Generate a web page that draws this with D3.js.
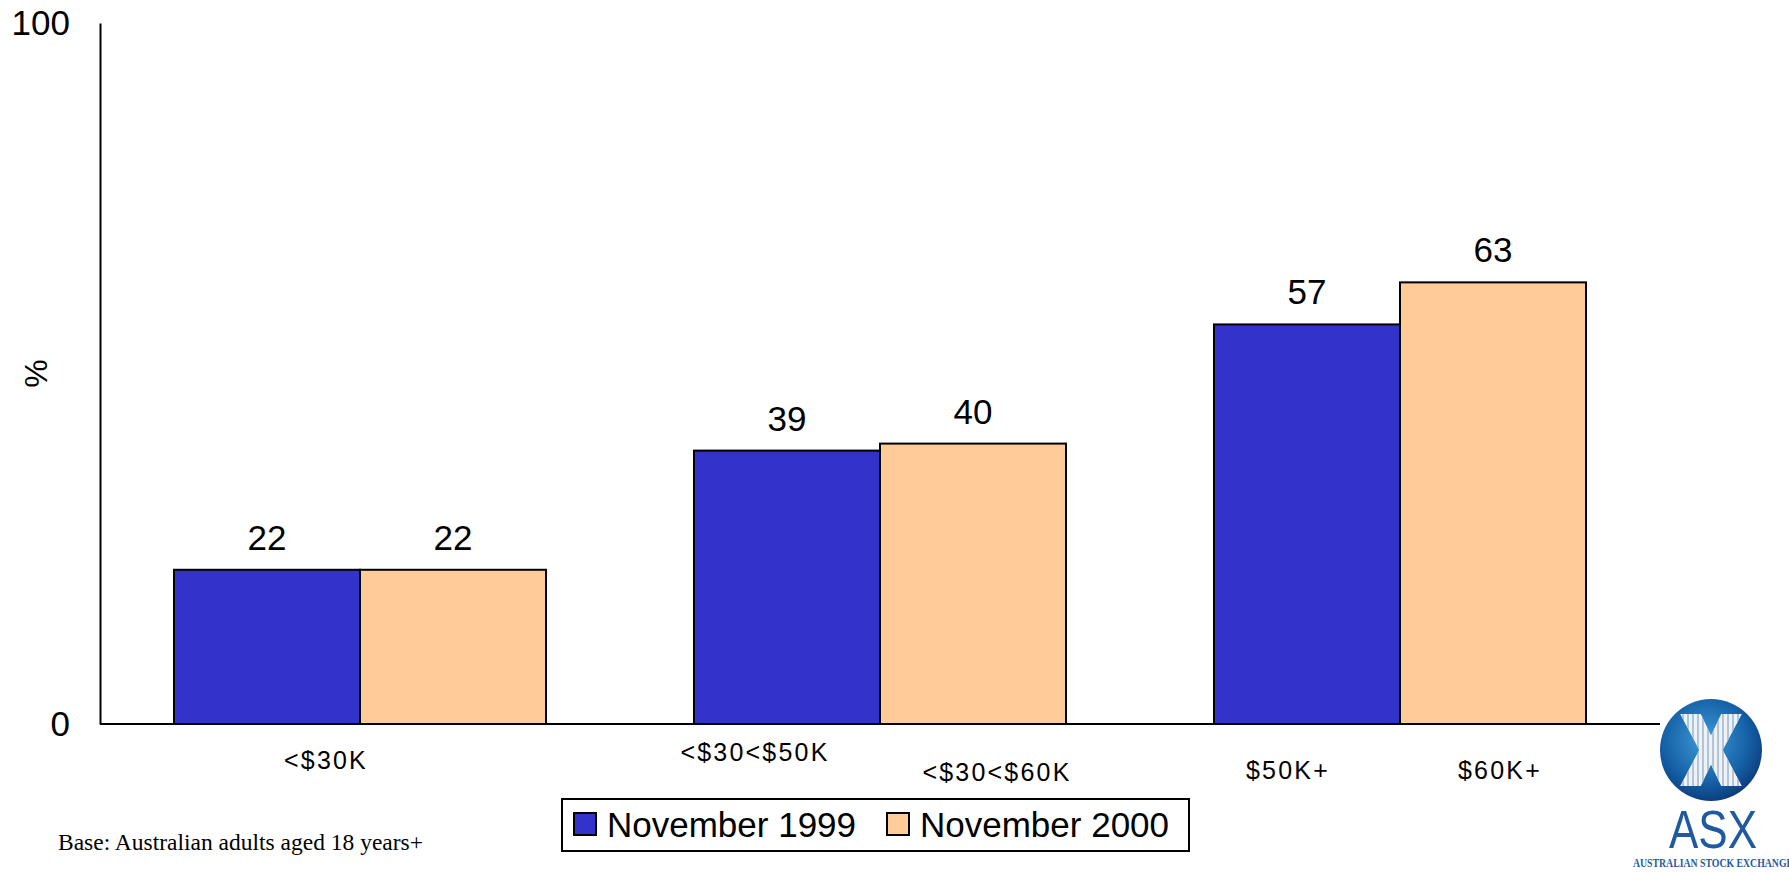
<!DOCTYPE html>
<html>
<head>
<meta charset="utf-8">
<script src="https://cdn.jsdelivr.net/npm/d3@7"></script>
<style>
  body { margin: 0; background: #fff; }
  svg { display: block; }
</style>
</head>
<body>
<div id="chart"></div>
<script>
// data
var groups = ["g1", "g2", "g3"]
var seriesNames = ["November 1999", "November 2000"]
var nov1999 = [22, 39, 57]
var nov2000 = [22, 40, 63]
var labels1999 = ["<$30K", "<$30<$50K", "$50K+"]
var labels2000 = ["", "<$30<$60K", "$60K+"]
var yTicks = [0, 100]

var W = 1789, H = 872
var m = { left: 100, right: 1660, top: 23, bottom: 724 }

var svg = d3.select("#chart").append("svg")
    .attr("width", W)
    .attr("height", H)

var x = d3.scaleBand()
    .domain(groups)
    .range([m.left, m.right])
    .paddingInner(0.2846)
    .paddingOuter(0.1423)
var xs = d3.scaleBand()
    .domain(seriesNames)
    .range([0, x.bandwidth()])
var y = d3.scaleLinear()
    .domain([0, 100])
    .range([m.bottom, m.top])

var color = d3.scaleOrdinal()
    .domain(seriesNames)
    .range(["#3333CC", "#FFCC99"])

var rows = groups.map(function (g, i) {
    return { g: g, vals: [nov1999[i], nov2000[i]] }
})
var barData = function (d) {
    return d.vals.map(function (v, j) { return { s: seriesNames[j], v: v } })
}

// bars
var gg = svg.append("g").selectAll("g")
    .data(rows)
    .enter().append("g")
    .attr("transform", function (d) { return "translate(" + x(d.g) + ",0)" })

gg.selectAll("rect")
    .data(barData)
    .enter().append("rect")
    .attr("x", function (d) { return xs(d.s) })
    .attr("y", function (d) { return y(d.v) })
    .attr("width", xs.bandwidth())
    .attr("height", function (d) { return y(0) - y(d.v) })
    .attr("fill", function (d) { return color(d.s) })
    .attr("stroke", "#000")
    .attr("stroke-width", 2)

gg.selectAll("text")
    .data(barData)
    .enter().append("text")
    .attr("x", function (d) { return xs(d.s) + xs.bandwidth() / 2 })
    .attr("y", function (d) { return y(d.v) - 20 })
    .attr("text-anchor", "middle")
    .style("font-family", "Liberation Sans, Arial, sans-serif")
    .style("font-size", "35px")
    .text(function (d) { return d.v })

// axes
var yAxis = svg.append("g")
    .attr("transform", "translate(" + m.left + ",0)")
    .call(d3.axisLeft(y).tickValues(yTicks).tickSize(0).tickPadding(30))
yAxis.select(".domain").attr("stroke", "#000").attr("stroke-width", 2)
yAxis.selectAll("text")
    .style("font-family", "Liberation Sans, Arial, sans-serif")
    .style("font-size", "35px")
    .attr("fill", "#000")

svg.append("line")
    .attr("x1", m.left).attr("x2", m.right)
    .attr("y1", y(0)).attr("y2", y(0))
    .attr("stroke", "#000")
    .attr("stroke-width", 2)

svg.append("text")
    .attr("transform", "translate(36," + ((m.top + m.bottom) / 2) + ") rotate(-90)")
    .attr("text-anchor", "middle")
    .attr("dy", "0.35em")
    .style("font-family", "Liberation Sans, Arial, sans-serif")
    .style("font-size", "32px")
    .text("%")

// category labels, placed under the bars as on the original slide
var catFont = "Liberation Sans, Arial, sans-serif"
var lab1Dx = [-34, -32, -19], lab1Y = [760, 752, 770]
var lab2Dx = [0, 24, 7], lab2Y = [0, 772, 770]
function catLabel(cx, cy, t) {
    svg.append("text")
        .attr("x", cx).attr("y", cy)
        .attr("dy", "0.35em")
        .attr("text-anchor", "middle")
        .style("font-family", catFont)
        .style("font-size", "25px")
        .style("letter-spacing", "2.2px")
        .text(t)
}
groups.forEach(function (g, i) {
    var c1 = x(g) + xs(seriesNames[0]) + xs.bandwidth() / 2
    var c2 = x(g) + xs(seriesNames[1]) + xs.bandwidth() / 2
    if (i == 0) c1 = x(g) + x.bandwidth() / 2
    catLabel(c1 + lab1Dx[i], lab1Y[i], labels1999[i])
    if (labels2000[i]) catLabel(c2 + lab2Dx[i], lab2Y[i], labels2000[i])
})

// legend
var lg = svg.append("g").attr("transform", "translate(562,799)")
lg.append("rect")
    .attr("width", 627).attr("height", 52)
    .attr("fill", "#fff").attr("stroke", "#000").attr("stroke-width", 2)
var legX = [12, 325]
seriesNames.forEach(function (s, i) {
    lg.append("rect")
        .attr("x", legX[i]).attr("y", 14)
        .attr("width", 22).attr("height", 22)
        .attr("fill", color(s)).attr("stroke", "#000").attr("stroke-width", 2)
    lg.append("text")
        .attr("x", legX[i] + 33).attr("y", 26)
        .attr("dy", "0.35em")
        .style("font-family", "Liberation Sans, Arial, sans-serif")
        .style("font-size", "35px")
        .text(s)
})

// footnote
svg.append("text")
    .attr("x", 58).attr("y", 850)
    .style("font-family", "Liberation Serif, Times New Roman, serif")
    .style("font-size", "23.5px")
    .text("Base: Australian adults aged 18 years+")

// ASX logo
var defs = svg.append("defs")
var grad = defs.append("radialGradient").attr("id", "asxg")
    .attr("cx", "45%").attr("cy", "40%").attr("r", "60%")
grad.append("stop").attr("offset", "0%").attr("stop-color", "#3f9bd8")
grad.append("stop").attr("offset", "70%").attr("stop-color", "#1560a6")
grad.append("stop").attr("offset", "100%").attr("stop-color", "#0c3f80")
var xPath = "M-31,-36 L-10,-36 L0,-15 L10,-36 L31,-36 L12,0 L31,36 L10,36 L0,15 L-10,36 L-31,36 L-12,0 Z"
defs.append("clipPath").attr("id", "xclip").append("path").attr("d", xPath)

var logo = svg.append("g").attr("transform", "translate(1711,750)")
logo.append("circle").attr("r", 51).attr("fill", "url(#asxg)")
var xg = logo.append("g").attr("clip-path", "url(#xclip)")
xg.append("path").attr("d", xPath).attr("fill", "#eef2f7")
for (var k = -28; k <= 28; k += 5) {
    xg.append("line")
        .attr("x1", k).attr("x2", k).attr("y1", -36).attr("y2", 36)
        .attr("stroke", "#98b1cc").attr("stroke-width", 1.4)
}
logo.append("text")
    .attr("x", 2).attr("y", 98)
    .attr("text-anchor", "middle")
    .attr("textLength", 88)
    .attr("lengthAdjust", "spacingAndGlyphs")
    .style("font-family", "Liberation Sans, Arial, sans-serif")
    .style("font-size", "54px")
    .attr("fill", "#1f5aa0")
    .text("ASX")
logo.append("text")
    .attr("x", 2).attr("y", 117)
    .attr("text-anchor", "middle")
    .attr("textLength", 160)
    .attr("lengthAdjust", "spacingAndGlyphs")
    .style("font-family", "Liberation Serif, serif")
    .style("font-size", "12px")
    .style("font-weight", "bold")
    .attr("fill", "#1f5aa0")
    .text("AUSTRALIAN STOCK EXCHANGE")
</script>
</body>
</html>
